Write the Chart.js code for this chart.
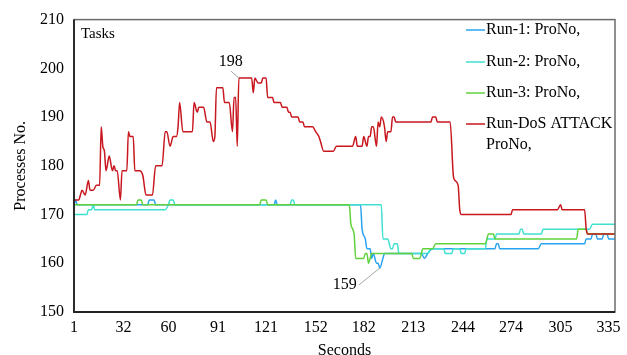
<!DOCTYPE html>
<html>
<head>
<meta charset="utf-8">
<script src="https://cdn.jsdelivr.net/npm/chart.js@4.4.1/dist/chart.umd.min.js"></script>
<style>
  html, body { margin: 0; padding: 0; background: #ffffff; }
  #wrap { position: relative; width: 627px; height: 355px; }
</style>
</head>
<body>
<div id="wrap"><canvas id="chart" width="627" height="355"></canvas></div>
<script>
// Process counts per second for three normal runs and one run under a DoS attack.
// Each series is listed at the seconds where its count changes.
const run1Sec = [1,2,3,47,48,51,52,126,127,128,180,181,183,184,186,187,188,190,191,192,194,195,218,220,222,225,264,265,266,267,291,293,320,321,324,325,327,328,331,332,334,335,339];
const run1Val = [172,173,172,172,173,173,172,172,173,172,172,167,165,163,163,161,162,160,160,159,161,162,162,161,162,163,163,164,164,163,163,164,164,165,165,166,166,165,165,166,166,165,165];

const run2Sec = [1,9,10,12,13,14,58,60,61,63,64,136,137,138,139,193,194,197,199,200,201,203,204,222,224,232,233,237,238,242,243,245,246,258,259,264,265,279,280,281,282,293,294,323,325,339];
const run2Val = [170,170,171,171,172,171,171,172,173,173,172,172,173,173,172,172,165,165,163,163,164,164,162,162,163,163,162,162,163,163,162,162,163,163,165,165,166,166,167,167,166,166,167,167,168,168];

const run3Sec = [1,40,41,43,44,117,118,121,122,173,174,176,177,182,183,184,185,186,187,212,213,217,219,225,227,258,260,263,264,315,316,321,322,339];
const run3Val = [172,172,173,173,172,172,173,173,172,172,168,166,161,161,162,162,160,161,162,162,161,161,163,163,164,164,166,166,165,165,167,167,166,166];

const dosSec = [1,4,5,6,8,10,11,13,15,17,18,19,20,21,23,25,26,27,28,30,31,34,35,36,38,39,42,44,46,50,52,56,58,59,61,63,65,66,67,69,75,76,78,79,82,84,86,88,89,90,94,95,98,100,101,102,103,104,112,113,114,116,118,119,121,122,125,126,130,131,134,135,136,137,141,142,144,145,150,152,154,155,157,163,165,175,177,178,181,182,184,185,186,187,188,190,191,192,193,195,196,197,199,200,201,202,224,225,227,228,236,238,239,241,242,243,274,275,303,305,306,320,321,322,339];
const dosVal = [173,173,174,175,174,177,175,175,176,176,188,184,183,179,182,179,180,179,179,173,179,179,187,186,186,179,179,178,174,174,180,180,187,187,184,186,186,188,193,187,187,193,191,192,192,189,189,185,186,196,196,193,193,187,194,194,184,198,198,195,198,197,197,198,198,194,194,193,193,192,192,191,191,190,190,189,189,188,188,187,186,185,183,183,184,184,186,184,184,186,184,186,186,188,188,184,189,188,190,188,185,187,187,190,190,189,189,190,190,189,189,178,177,176,171,170,170,171,171,172,171,171,167,166,166];

const seriesNames = ['Run-1: ProNo,', 'Run-2: ProNo,', 'Run-3: ProNo,', 'Run-DoS ATTACK ProNo,'];
const xTickSecs = [1, 32, 60, 91, 121, 152, 182, 213, 244, 274, 305, 335];
const yTickStep = 10;
// Points whose values are written next to them: [series index, second]
const calloutPoints = [[3, 104], [0, 192]];

const FONT = '"Liberation Serif", "Times New Roman", serif';
const colors = ['#29a3ef', '#3fe0d0', '#5fd23c', '#c8171e'];

function pts(secs, vals) {
  return secs.map((s, i) => ({ x: s, y: vals[i] }));
}

const datasets = [
  { label: seriesNames[0], data: pts(run1Sec, run1Val), order: 3 },
  { label: seriesNames[1], data: pts(run2Sec, run2Val), order: 2 },
  { label: seriesNames[2], data: pts(run3Sec, run3Val), order: 1 },
  { label: seriesNames[3], data: pts(dosSec, dosVal), order: 0 }
].map((d, i) => Object.assign(d, {
  borderColor: colors[i],
  backgroundColor: colors[i],
  borderWidth: 1.5,
  pointRadius: 0,
  fill: false,
  cubicInterpolationMode: 'monotone'
}));

// Plot frame, "Tasks" caption and the in-plot legend
const decorations = {
  id: 'decorations',
  afterDatasetsDraw(chart) {
    const { ctx, chartArea: a } = chart;
    ctx.save();
    ctx.strokeStyle = '#6b6b6b';
    ctx.lineWidth = 1.5;
    ctx.strokeRect(a.left, a.top, a.right - a.left, a.bottom - a.top);
    ctx.strokeStyle = '#222222';
    ctx.lineWidth = 1.8;
    ctx.beginPath();
    ctx.moveTo(a.left, a.top);
    ctx.lineTo(a.left, a.bottom);
    ctx.lineTo(a.right, a.bottom);
    ctx.stroke();

    ctx.fillStyle = '#000000';
    ctx.font = '15px ' + FONT;
    ctx.textAlign = 'left';
    ctx.textBaseline = 'middle';
    ctx.fillText('Tasks', a.left + 7, a.top + 14);

    // legend
    const rows = [30, 62, 93, 124];
    ctx.font = '16px ' + FONT;
    const lx0 = 466, lx1 = 485, tx = 486, maxW = a.right - tx;
    chart.data.datasets.forEach((ds, i) => {
      const y = rows[i];
      ctx.strokeStyle = ds.borderColor;
      ctx.lineWidth = 1.5;
      ctx.beginPath();
      ctx.moveTo(lx0, y);
      ctx.lineTo(lx1, y);
      ctx.stroke();
      ctx.fillStyle = '#000000';
      const words = ds.label.split(' ');
      let line = '', lines = [];
      words.forEach(w => {
        const test = line ? line + ' ' + w : w;
        if (ctx.measureText(test).width > maxW && line) { lines.push(line); line = w; }
        else line = test;
      });
      lines.push(line);
      lines.forEach((t, k) => ctx.fillText(t, tx, y + k * 21));
    });
    ctx.restore();
  }
};

// Value callouts with leader lines
const callouts = {
  id: 'callouts',
  afterDatasetsDraw(chart) {
    const { ctx } = chart;
    const xs = chart.scales.x, ys = chart.scales.y;
    const style = [
      { tx: -8, ty: -16, lx: -8, ly: -7 },
      { tx: -35, ty: 17, lx: -21, ly: 17 }
    ];
    ctx.save();
    calloutPoints.forEach(([si, sec], k) => {
      const p = chart.data.datasets[si].data.find(d => d.x === sec);
      const px = xs.getPixelForValue(p.x), py = ys.getPixelForValue(p.y);
      const st = style[k];
      ctx.strokeStyle = '#a6a6a6';
      ctx.lineWidth = 1;
      ctx.beginPath();
      ctx.moveTo(px + st.lx, py + st.ly);
      ctx.lineTo(px, py);
      ctx.stroke();
      ctx.fillStyle = '#000000';
      ctx.font = '16px ' + FONT;
      ctx.textAlign = 'center';
      ctx.textBaseline = 'middle';
      ctx.fillText(String(p.y), px + st.tx, py + st.ty);
    });
    ctx.restore();
  }
};

new Chart(document.getElementById('chart'), {
  type: 'line',
  data: { datasets },
  options: {
    responsive: false,
    animation: false,
    devicePixelRatio: 1,
    layout: { padding: { top: 17, right: 12, left: 0, bottom: 0 } },
    plugins: { legend: { display: false }, tooltip: { enabled: false } },
    scales: {
      x: {
        type: 'linear',
        min: 1,
        max: 339,
        grid: { display: false, drawTicks: false },
        border: { display: false },
        ticks: {
          font: { family: FONT, size: 16 },
          color: '#000000',
          padding: 6,
          maxRotation: 0,
          autoSkip: false,
          callback: v => String(v)
        },
        afterBuildTicks: s => { s.ticks = xTickSecs.map(v => ({ value: v })); },
        afterFit: s => { s.height = 43; },
        title: {
          display: true,
          text: 'Seconds',
          font: { family: FONT, size: 16 },
          color: '#000000',
          padding: { top: 0, bottom: -5 }
        }
      },
      y: {
        min: 150,
        max: 210,
        grid: { display: false, drawTicks: false },
        border: { display: false },
        ticks: {
          stepSize: yTickStep,
          font: { family: FONT, size: 16 },
          color: '#000000',
          padding: 10
        },
        afterFit: s => { s.width = 74; },
        title: {
          display: true,
          text: 'Processes No.',
          font: { family: FONT, size: 16 },
          color: '#000000',
          padding: { top: 11, bottom: 0 }
        }
      }
    }
  },
  plugins: [decorations, callouts]
});
</script>
</body>
</html>
